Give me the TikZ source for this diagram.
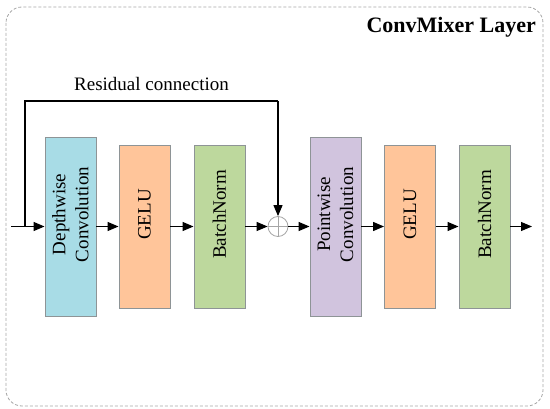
\documentclass[tikz,border=0pt]{standalone}
\usepackage{fontspec}
\setmainfont{Liberation Serif}
\usetikzlibrary{arrows.meta}
\definecolor{cblue}{HTML}{A8DCE6}
\definecolor{corange}{HTML}{FFC59A}
\definecolor{cgreen}{HTML}{BDD89D}
\definecolor{cpurple}{HTML}{D1C4DE}
\definecolor{cborder}{HTML}{8E9496}
\definecolor{cdash}{HTML}{A6A6A6}
\begin{document}
\begin{tikzpicture}[x=1pt,y=-1pt,
  blk/.style={draw=cborder, line width=0.9pt, minimum width=51pt, inner sep=0pt},
  tall/.style={blk, minimum height=179pt},
  short/.style={blk, minimum height=163pt},
  lbl/.style={rotate=90, align=center, font=\fontsize{19}{23}\selectfont, inner sep=0pt},
  arr/.style={line width=1.2pt, -{Triangle[length=11pt,width=9pt]}},
  ln/.style={line width=1.2pt}
]
\useasboundingbox (0,0) rectangle (550,409);
\draw[cdash, line width=0.8pt, dash pattern=on 3pt off 2pt, rounded corners=16pt] (6,7) rectangle (543,406);

\node[font=\bfseries\fontsize{22}{26}\selectfont, anchor=east, inner sep=0pt] (title) at (536,27) {ConvMixer Layer};
\node[font=\fontsize{19}{23}\selectfont, inner sep=0pt] (res) at (151.5,84) {Residual connection};

\node[tall, fill=cblue] (dw) at (70.5,226.5) {};
\node[short, fill=corange] (g1) at (144.5,226.5) {};
\node[short, fill=cgreen] (b1) at (219.5,226.5) {};
\node[circle, draw=cdash, line width=0.8pt, fill=white, minimum size=20pt, inner sep=0pt] (add) at (278,226.5) {};
\node[tall, fill=cpurple] (pw) at (335.5,226.5) {};
\node[short, fill=corange] (g2) at (410,226.5) {};
\node[short, fill=cgreen] (b2) at (484.5,226.5) {};

\node[lbl] (tdw) at ([yshift=12pt]dw.center) {Depthwise\\Convolution};
\node[lbl] (tg1) at ([yshift=12pt]g1.center) {GELU};
\node[lbl] (tb1) at ([yshift=12pt]b1.center) {BatchNorm};
\node[lbl] (tpw) at ([yshift=12pt]pw.center) {Pointwise\\Convolution};
\node[lbl] (tg2) at ([yshift=12pt]g2.center) {GELU};
\node[lbl] (tb2) at ([yshift=12pt]b2.center) {BatchNorm};

\draw[cdash, line width=0.8pt] (add.north) -- (add.south) (add.west) -- (add.east);

\coordinate (in) at (11,226.5);
\coordinate (split) at (25,226.5);
\coordinate (r1) at (25,101);
\coordinate (r2) at (278,101);
\coordinate (out) at (532,226.5);

\draw[arr] (in) -- (dw.west);
\draw[ln] (split) -- (r1) -- (r2);
\draw[arr] (r2) -- (add.north);
\draw[arr] (dw.east) -- (g1.west);
\draw[arr] (g1.east) -- (b1.west);
\draw[arr] (b1.east) -- (add.west);
\draw[arr] (add.east) -- (pw.west);
\draw[arr] (pw.east) -- (g2.west);
\draw[arr] (g2.east) -- (b2.west);
\draw[arr] (b2.east) -- (out);
\end{tikzpicture}
\end{document}
